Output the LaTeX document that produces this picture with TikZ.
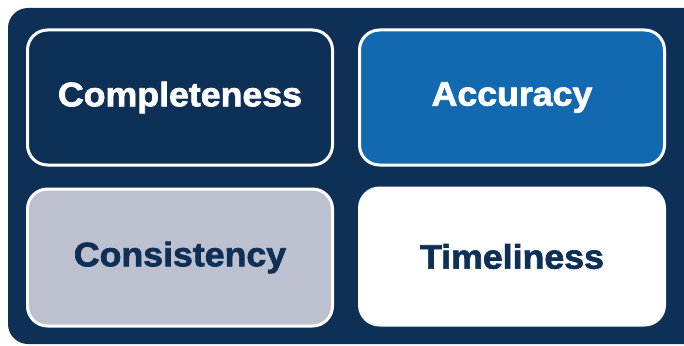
\documentclass[tikz,border=0pt]{standalone}
\usepackage{fontspec}
\setmainfont{Liberation Sans}[FakeStretch=1.05,BoldFeatures={FakeBold=2}]
\definecolor{navy}{HTML}{0E3057}
\definecolor{midblue}{HTML}{1369B0}
\definecolor{steel}{HTML}{BCC0CF}
\tikzset{
  tile/.style={draw=white,line width=3pt,rounded corners=20pt,
    minimum width=305pt,minimum height=135pt,
    font=\fontsize{34}{40}\selectfont\bfseries}
}
\begin{document}
\begin{tikzpicture}[x=1pt,y=-1pt]
  \useasboundingbox(0,0) rectangle (684,345);
  \clip(0,0) rectangle (684,345);
  \fill[navy,rounded corners=20pt](8,8) rectangle (710,344);
  \node[tile,fill=navy,text=white](compl) at(180,97.5){Completeness};
  \node[tile,fill=midblue,text=white](accur) at(512,97.5){Accuracy};
  \node[tile,fill=steel,text=navy,minimum height=137pt](consis) at(180,257.5){Consistency};
  \node[tile,fill=white,text=navy,minimum height=137pt](timel) at(512,256.5){Timeliness};
\end{tikzpicture}
\end{document}
